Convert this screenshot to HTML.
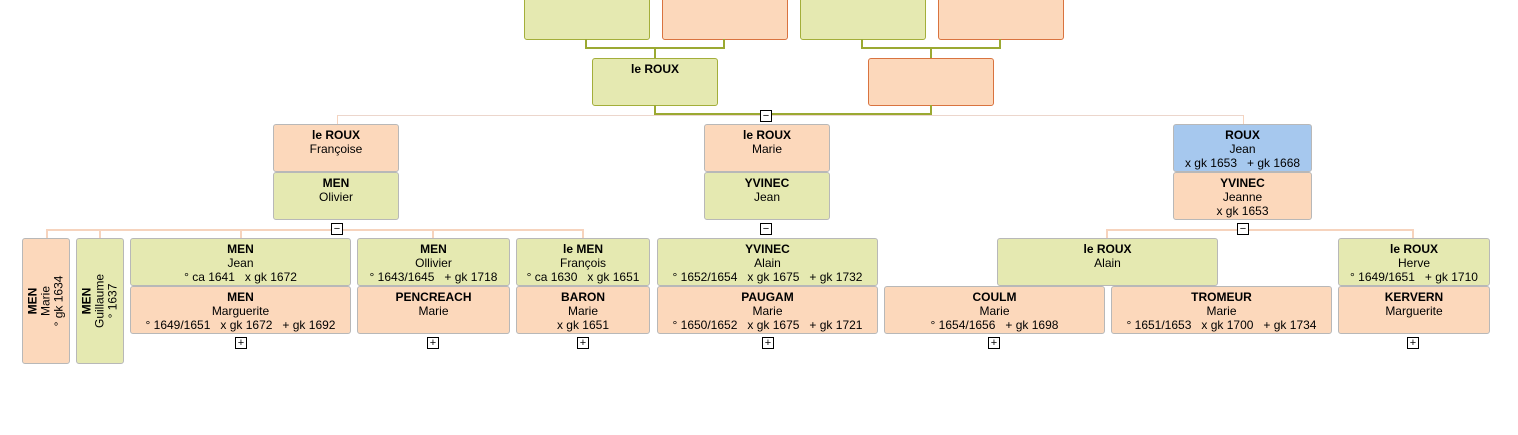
<!DOCTYPE html>
<html><head><meta charset="utf-8"><style>
body{margin:0;width:1518px;height:435px;background:#fff;position:relative;overflow:hidden;font-family:"Liberation Sans",Arial,sans-serif;font-size:12px;color:#000}
.b{position:absolute;box-sizing:border-box;border:1px solid #b8b8b8;border-radius:3px;text-align:center;line-height:14px;padding-top:3px;white-space:nowrap;overflow:hidden}
.g{background:#e5e9b1}.o{background:#fcd8bb}.u{background:#a6c8ee}
.tg{border-color:#a3ae3a}.to{border-color:#d9733f}
.b b{display:block}
.l{position:absolute}
.lg{background:#9ba932}.lo{background:#f6d3bd}
.m{position:absolute;width:12px;height:12px;border:1px solid #000;background:#fff;box-sizing:border-box;font-size:11px;line-height:10px;text-align:center}
.v{position:absolute;box-sizing:border-box;border:1px solid #b8b8b8;border-radius:3px}
.v div{position:absolute;left:50%;top:50%;transform:translate(-50%,-50%) rotate(-90deg);white-space:nowrap;text-align:center;line-height:13px}
.v b{display:block}
</style></head><body>
<!-- top generation -->
<div class="b g tg" style="left:524px;top:-10px;width:126px;height:50px"></div>
<div class="b o to" style="left:662px;top:-10px;width:126px;height:50px"></div>
<div class="b g tg" style="left:800px;top:-10px;width:126px;height:50px"></div>
<div class="b o to" style="left:938px;top:-10px;width:126px;height:50px"></div>
<div class="l lg" style="left:585px;top:39px;width:2px;height:10px"></div>
<div class="l lg" style="left:723px;top:39px;width:2px;height:10px"></div>
<div class="l lg" style="left:585px;top:47px;width:140px;height:2px"></div>
<div class="l lg" style="left:654px;top:47px;width:2px;height:11px"></div>
<div class="l lg" style="left:861px;top:39px;width:2px;height:10px"></div>
<div class="l lg" style="left:999px;top:39px;width:2px;height:10px"></div>
<div class="l lg" style="left:861px;top:47px;width:140px;height:2px"></div>
<div class="l lg" style="left:930px;top:47px;width:2px;height:11px"></div>
<div class="b g tg" style="left:592px;top:58px;width:126px;height:48px"><b>le ROUX</b></div>
<div class="b o to" style="left:868px;top:58px;width:126px;height:48px"></div>
<div class="l lo" style="left:337px;top:115px;width:907px;height:1px;background:#ecd6cc"></div>
<div class="l lo" style="left:337px;top:115px;width:1px;height:9px"></div>
<div class="l lo" style="left:1243px;top:115px;width:1px;height:9px"></div>
<div class="l lg" style="left:654px;top:105px;width:2px;height:10px"></div>
<div class="l lg" style="left:930px;top:105px;width:2px;height:10px"></div>
<div class="l lg" style="left:654px;top:113px;width:278px;height:2px"></div>
<div class="m" style="left:760px;top:110px">−</div>
<!-- gen 2 -->
<div class="b o" style="left:273px;top:124px;width:126px;height:48px"><b>le ROUX</b>Françoise</div>
<div class="b g" style="left:273px;top:172px;width:126px;height:48px"><b>MEN</b>Olivier</div>
<div class="b o" style="left:704px;top:124px;width:126px;height:48px"><b>le ROUX</b>Marie</div>
<div class="b g" style="left:704px;top:172px;width:126px;height:48px"><b>YVINEC</b>Jean</div>
<div class="b u" style="left:1173px;top:124px;width:139px;height:48px"><b>ROUX</b>Jean<br>x gk 1653 &nbsp; + gk 1668</div>
<div class="b o" style="left:1173px;top:172px;width:139px;height:48px"><b>YVINEC</b>Jeanne<br>x gk 1653</div>
<div class="m" style="left:331px;top:223px">−</div>
<div class="m" style="left:760px;top:223px">−</div>
<div class="m" style="left:1237px;top:223px">−</div>
<!-- child lines -->
<div class="l lo" style="left:46px;top:229px;width:285px;height:2px"></div>
<div class="l lo" style="left:343px;top:229px;width:241px;height:2px"></div>
<div class="l lo" style="left:46px;top:229px;width:2px;height:9px"></div>
<div class="l lo" style="left:99px;top:229px;width:2px;height:9px"></div>
<div class="l lo" style="left:240px;top:229px;width:2px;height:9px"></div>
<div class="l lo" style="left:432px;top:229px;width:2px;height:9px"></div>
<div class="l lo" style="left:582px;top:229px;width:2px;height:9px"></div>
<div class="l lo" style="left:1106px;top:229px;width:131px;height:2px"></div>
<div class="l lo" style="left:1249px;top:229px;width:165px;height:2px"></div>
<div class="l lo" style="left:1106px;top:229px;width:2px;height:9px"></div>
<div class="l lo" style="left:1412px;top:229px;width:2px;height:9px"></div>
<!-- children -->
<div class="v o" style="left:22px;top:238px;width:48px;height:126px"><div><b>MEN</b>Marie<br>° gk 1634</div></div>
<div class="v g" style="left:76px;top:238px;width:48px;height:126px"><div><b>MEN</b>Guillaume<br>° 1637</div></div>
<div class="b g" style="left:130px;top:238px;width:221px;height:48px"><b>MEN</b>Jean<br>° ca 1641 &nbsp; x gk 1672</div>
<div class="b o" style="left:130px;top:286px;width:221px;height:48px"><b>MEN</b>Marguerite<br>° 1649/1651 &nbsp; x gk 1672 &nbsp; + gk 1692</div>
<div class="m" style="left:235px;top:337px">+</div>
<div class="b g" style="left:357px;top:238px;width:153px;height:48px"><b>MEN</b>Ollivier<br>° 1643/1645 &nbsp; + gk 1718</div>
<div class="b o" style="left:357px;top:286px;width:153px;height:48px"><b>PENCREACH</b>Marie</div>
<div class="m" style="left:427px;top:337px">+</div>
<div class="b g" style="left:516px;top:238px;width:134px;height:48px"><b>le MEN</b>François<br>° ca 1630 &nbsp; x gk 1651</div>
<div class="b o" style="left:516px;top:286px;width:134px;height:48px"><b>BARON</b>Marie<br>x gk 1651</div>
<div class="m" style="left:577px;top:337px">+</div>
<div class="b g" style="left:657px;top:238px;width:221px;height:48px"><b>YVINEC</b>Alain<br>° 1652/1654 &nbsp; x gk 1675 &nbsp; + gk 1732</div>
<div class="b o" style="left:657px;top:286px;width:221px;height:48px"><b>PAUGAM</b>Marie<br>° 1650/1652 &nbsp; x gk 1675 &nbsp; + gk 1721</div>
<div class="m" style="left:762px;top:337px">+</div>
<div class="b g" style="left:997px;top:238px;width:221px;height:48px"><b>le ROUX</b>Alain</div>
<div class="b o" style="left:884px;top:286px;width:221px;height:48px"><b>COULM</b>Marie<br>° 1654/1656 &nbsp; + gk 1698</div>
<div class="b o" style="left:1111px;top:286px;width:221px;height:48px"><b>TROMEUR</b>Marie<br>° 1651/1653 &nbsp; x gk 1700 &nbsp; + gk 1734</div>
<div class="m" style="left:988px;top:337px">+</div>
<div class="b g" style="left:1338px;top:238px;width:152px;height:48px"><b>le ROUX</b>Herve<br>° 1649/1651 &nbsp; + gk 1710</div>
<div class="b o" style="left:1338px;top:286px;width:152px;height:48px"><b>KERVERN</b>Marguerite</div>
<div class="m" style="left:1407px;top:337px">+</div>
</body></html>
